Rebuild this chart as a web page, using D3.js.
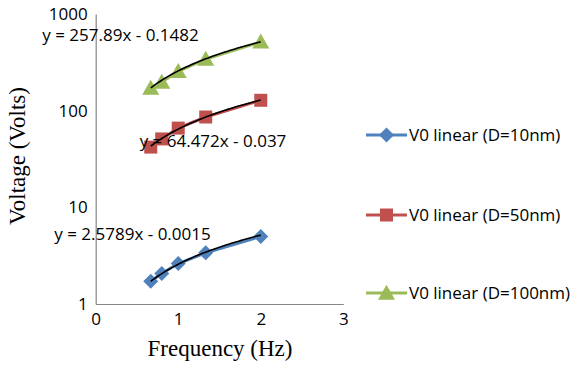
<!DOCTYPE html>
<html>
<head>
<meta charset="utf-8">
<script src="https://cdn.jsdelivr.net/npm/d3@7/dist/d3.min.js"></script>
<style>
  html, body { margin: 0; padding: 0; background: #fff; }
  svg { display: block; }
</style>
</head>
<body>
<svg id="chart" width="577" height="365"></svg>
<script>
// Frequency sweep (Hz) shared by all three series
const frequencies = [0.667, 0.8, 1.0, 1.333, 2.0];

// Measured V0 per nanostructure size
const v0D10 = [1.72, 2.07, 2.62, 3.38, 5.0];
const v0D50 = [42, 51, 66, 86, 128];
const v0D100 = [172, 198, 255, 342, 515];

// Linear trendline coefficients (slope, intercept) as printed on the chart
const fitD10 = [2.5789, -0.0015];
const fitD50 = [64.472, -0.037];
const fitD100 = [257.89, -0.1482];

const seriesNames = ["V0 linear (D=10nm)", "V0 linear (D=50nm)", "V0 linear (D=100nm)"];
const xTicks = [0, 1, 2, 3];
const yTicks = [1, 10, 100, 1000];

const series = [
  { name: seriesNames[0], values: v0D10, fit: fitD10, color: "#4F81BD", marker: "diamond",
    label: "y = 2.5789x - 0.0015", lx: 132.5, ly: 233.5 },
  { name: seriesNames[1], values: v0D50, fit: fitD50, color: "#C0504D", marker: "square",
    label: "y = 64.472x - 0.037", lx: 213, ly: 141 },
  { name: seriesNames[2], values: v0D100, fit: fitD100, color: "#9BBB59", marker: "triangle",
    label: "y = 257.89x - 0.1482", lx: 120.5, ly: 35 }
];

const svg = d3.select("#chart");
const sansFont = "'Open Sans', 'Liberation Sans', sans-serif";
const serifFont = "'Liberation Serif', 'DejaVu Serif', serif";
const fs = 17;

const plot = { left: 95.7, right: 343.3, top: 14, bottom: 304 };

const x = d3.scaleLinear().domain([0, 3]).range([plot.left, plot.right]);
const y = d3.scaleLog().domain([1, 1000]).range([plot.bottom, plot.top]);

// Marker shapes
function markerPath(kind) {
  if (kind === "diamond") {
    const r = 7.5;
    return `M0,${-r}L${r},0L0,${r}L${-r},0Z`;
  }
  if (kind === "square") {
    const h = 6.5;
    return `M${-h},${-h}H${h}V${h}H${-h}Z`;
  }
  const w = 8.5, hgt = 15;
  return `M0,${-hgt * 0.55}L${w},${hgt * 0.45}L${-w},${hgt * 0.45}Z`;
}

// Axes
const xAxis = d3.axisBottom(x).tickValues(xTicks).tickSize(0).tickPadding(9)
  .tickFormat(d3.format("d"));
const yAxis = d3.axisLeft(y).tickValues(yTicks).tickSize(0).tickPadding(8)
  .tickFormat(d3.format("d"));

const gx = svg.append("g").attr("transform", `translate(0,${plot.bottom})`).call(xAxis);
const gy = svg.append("g").attr("transform", `translate(${plot.left},0)`).call(yAxis);

[gx, gy].forEach(g => {
  g.select(".domain").attr("stroke", "#868686").attr("stroke-width", 1.2);
  g.selectAll("text").attr("font-family", sansFont).attr("font-size", fs).attr("fill", "#000");
});

// Axis titles
svg.append("text")
  .attr("x", 220).attr("y", 356)
  .attr("text-anchor", "middle")
  .attr("font-family", serifFont).attr("font-size", 23)
  .text("Frequency (Hz)");

svg.append("text")
  .attr("transform", "translate(25,156) rotate(-90)")
  .attr("text-anchor", "middle")
  .attr("font-family", serifFont).attr("font-size", 23)
  .text("Voltage (Volts)");

const line = d3.line().x(d => x(d[0])).y(d => y(d[1]));

// Series lines and markers
series.forEach(s => {
  const pts = frequencies.map((f, i) => [f, s.values[i]]);
  svg.append("path")
    .attr("d", line(pts))
    .attr("fill", "none")
    .attr("stroke", s.color)
    .attr("stroke-width", 3);
  svg.append("g").selectAll("path")
    .data(pts)
    .join("path")
    .attr("transform", d => `translate(${x(d[0])},${y(d[1])})`)
    .attr("d", markerPath(s.marker))
    .attr("fill", s.color);
});

// Trendlines evaluated from the printed coefficients over the measured frequency span
series.forEach(s => {
  const [a, b] = s.fit;
  const f0 = d3.min(frequencies), f1 = d3.max(frequencies);
  const samples = d3.range(0, 61).map(k => {
    const f = f0 + (f1 - f0) * k / 60;
    return [f, a * f + b];
  });
  svg.append("path")
    .attr("d", line(samples))
    .attr("fill", "none")
    .attr("stroke", "#000")
    .attr("stroke-width", 1.6);
});

// Trendline equations
series.forEach(s => {
  svg.append("text")
    .attr("x", s.lx).attr("y", s.ly + 0.36 * fs)
    .attr("text-anchor", "middle")
    .attr("font-family", sansFont).attr("font-size", fs)
    .attr("fill", "#000")
    .text(s.label);
});

// Legend
const legendY = [135, 215, 293];
series.forEach((s, i) => {
  const g = svg.append("g").attr("transform", `translate(0,${legendY[i]})`);
  g.append("line")
    .attr("x1", 366).attr("x2", 407).attr("y1", 0).attr("y2", 0)
    .attr("stroke", s.color).attr("stroke-width", 3);
  g.append("path")
    .attr("transform", "translate(386.5,0)")
    .attr("d", markerPath(s.marker))
    .attr("fill", s.color);
  g.append("text")
    .attr("x", 409).attr("y", 0.36 * fs)
    .attr("font-family", sansFont).attr("font-size", fs)
    .attr("fill", "#000")
    .text(s.name);
});
</script>
</body>
</html>
